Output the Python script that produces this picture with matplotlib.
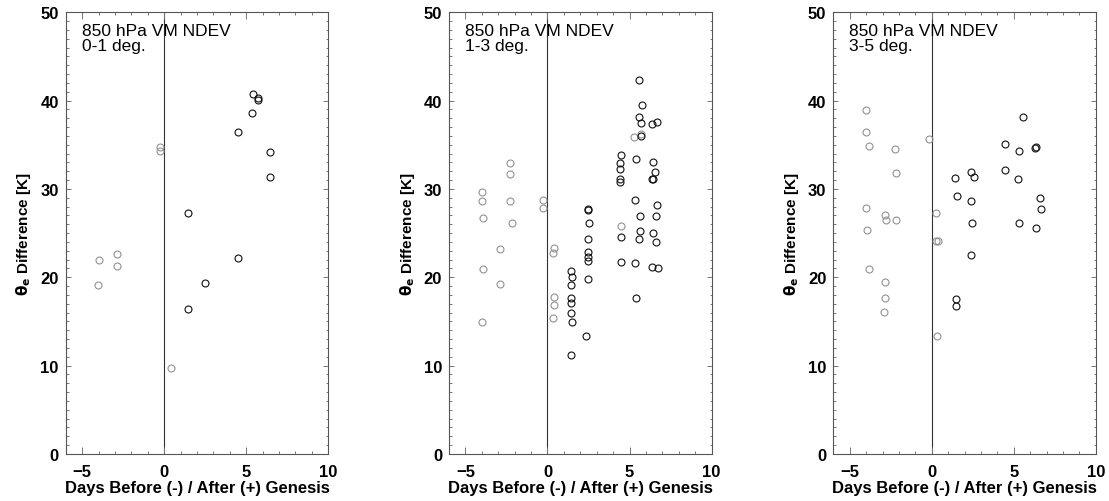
#!/usr/bin/env python3
"""Three-panel theta-e difference scatter vs. days relative to genesis."""

import matplotlib

matplotlib.use("Agg")
import matplotlib.pyplot as plt
from matplotlib.ticker import MultipleLocator

plt.rcParams["font.family"] = ["Liberation Sans", "DejaVu Sans"]

PANEL_LABELS = ["0-1 deg.", "1-3 deg.", "3-5 deg."]

# panel 1 (0-1 deg.)
gray_x_1 = [-3.99, -4.05, -2.87, -2.87, -0.24, -0.24, 0.40]
gray_y_1 = [22.0, 19.1, 22.6, 21.3, 34.7, 34.3, 9.7]
black_x_1 = [5.43, 5.69, 5.69, 5.36, 4.51, 6.46, 6.46, 1.46, 4.51, 2.49, 1.46]
black_y_1 = [40.7, 40.3, 40.1, 38.6, 36.5, 34.15, 31.35, 27.3, 22.15, 19.35, 16.4]

# panel 2 (1-3 deg.)
gray_x_2 = [-3.96, -3.96, -3.92, -3.92, -3.96, -2.87, -2.87, -2.26, -2.26, -2.26,
            -2.17, -0.26, -0.30, 0.37, 0.33, 0.41, 0.37, 0.33, 5.28, 5.67, 4.51]
gray_y_2 = [29.7, 28.6, 26.7, 20.9, 14.9, 23.2, 19.2, 32.9, 31.7, 28.6,
            26.2, 28.8, 27.8, 23.3, 22.7, 17.8, 16.9, 15.4, 35.85, 36.2, 25.8]
black_x_2 = [1.46, 1.50, 1.46, 1.46, 1.42, 1.42, 1.50, 1.46,
             2.44, 2.44, 2.52, 2.44, 2.44, 2.48, 2.48, 2.48, 2.36,
             4.47, 4.43, 4.43, 4.43, 4.43, 4.47, 4.47,
             5.55, 5.75, 5.59, 5.67, 5.72, 5.39, 5.35, 5.63, 5.63, 5.59, 5.35, 5.39,
             6.34, 6.67, 6.42, 6.54, 6.38, 6.46, 6.67, 6.59, 6.46, 6.59, 6.38, 6.71]
black_y_2 = [20.7, 20.0, 19.1, 17.7, 17.1, 15.95, 14.9, 11.25,
             27.7, 27.6, 26.1, 24.3, 22.9, 22.3, 21.8, 19.8, 13.4,
             33.8, 32.9, 32.3, 31.1, 30.75, 24.6, 21.7,
             42.3, 39.5, 38.1, 37.5, 36.0, 33.4, 28.75, 26.9, 25.2, 24.3, 21.6, 17.7,
             37.4, 37.6, 33.1, 31.9, 31.1, 31.1, 28.15, 26.9, 25.05, 24.0, 21.2, 21.0]

# panel 3 (3-5 deg.)
gray_x_3 = [-3.98, -3.98, -3.84, -3.98, -3.94, -3.84, -2.87, -2.77, -2.87, -2.87,
            -2.89, -2.22, -2.18, -2.18, -0.18, 0.26, 0.26, 0.36, 0.32]
gray_y_3 = [38.9, 36.4, 34.9, 27.8, 25.4, 20.9, 27.1, 26.5, 19.5, 17.65,
            16.1, 34.5, 31.8, 26.5, 35.65, 27.25, 24.15, 24.1, 13.35]
black_x_3 = [1.43, 1.54, 1.45, 1.45, 2.42, 2.57, 2.40, 2.48, 2.38,
             4.44, 4.44, 5.29, 5.25, 5.31, 5.58, 6.30, 6.34, 6.59, 6.63, 6.38]
black_y_3 = [31.2, 29.15, 17.55, 16.8, 31.95, 31.4, 28.6, 26.2, 22.55,
             35.05, 32.2, 34.3, 31.1, 26.2, 38.15, 34.6, 34.8, 29.0, 27.7, 25.6]

PANELS = [
    (gray_x_1, gray_y_1, black_x_1, black_y_1),
    (gray_x_2, gray_y_2, black_x_2, black_y_2),
    (gray_x_3, gray_y_3, black_x_3, black_y_3),
]

W, H = 1109, 502
AX_LEFT_PX = [65.7, 449.0, 833.3]
AX_W_PX, AX_TOP_PX, AX_BOT_PX = 262.6, 13.3, 455.0


def draw_panel(ax, data, label):
    gx, gy, bx, by = data
    ax.plot(gx, gy, "o", ms=5.0, mfc="none", mec="#929292", mew=0.8, zorder=3)
    ax.plot(bx, by, "o", ms=5.0, mfc="none", mec="#111111", mew=0.8, zorder=3)
    ax.axvline(0, color="#333333", lw=0.8, zorder=1)

    ax.set_xlim(-6, 10)
    ax.set_ylim(0, 50)
    ax.xaxis.set_major_locator(MultipleLocator(5))
    ax.xaxis.set_minor_locator(MultipleLocator(1))
    ax.yaxis.set_major_locator(MultipleLocator(10))
    ax.yaxis.set_minor_locator(MultipleLocator(1))
    ax.tick_params(axis="both", which="both", direction="in", top=True, right=True,
                   color="#777777", width=0.7, labelsize=12)
    ax.tick_params(axis="x", which="major", length=5, pad=7)
    ax.tick_params(axis="x", which="minor", length=2.5)
    ax.tick_params(axis="y", which="major", length=3.5, pad=5)
    ax.tick_params(axis="y", which="minor", length=1.8)
    for lab in ax.get_xticklabels() + ax.get_yticklabels():
        lab.set_fontweight("bold")
    for sp in ax.spines.values():
        sp.set_color("#555555")
        sp.set_linewidth(0.8)

    ax.set_xlabel("Days Before (-) / After (+) Genesis", fontsize=12, fontweight="bold",
                  labelpad=1)
    ax.set_ylabel(r"$\mathbf{\theta_e}$ Difference [K]", fontsize=11, fontweight="bold",
                  labelpad=5)
    ax.text(0.061, 0.975, "850 hPa VM NDEV\n" + label, transform=ax.transAxes,
            ha="left", va="top", fontsize=12.5, linespacing=0.95)


fig = plt.figure(figsize=(W / 100, H / 100), dpi=100)
for left_px, data, label in zip(AX_LEFT_PX, PANELS, PANEL_LABELS):
    ax = fig.add_axes([left_px / W, 1 - AX_BOT_PX / H, AX_W_PX / W,
                       (AX_BOT_PX - AX_TOP_PX) / H])
    draw_panel(ax, data, label)

fig.savefig("out.png", dpi=100)
